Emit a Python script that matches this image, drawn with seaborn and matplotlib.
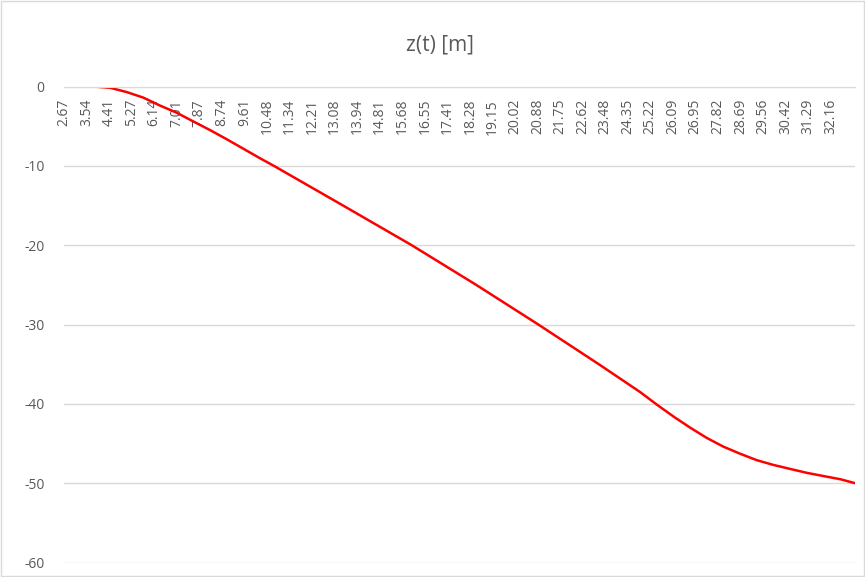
import matplotlib
matplotlib.use('Agg')
import matplotlib.pyplot as plt
import seaborn as sns

# time [s] and z(t) [m]
t = [2.67, 3.80, 4.44, 5.08, 5.72, 6.36, 7.00, 7.64, 8.29, 8.93, 9.57, 10.21,
     10.74, 13.40, 16.04, 18.52, 20.91, 23.28, 24.82, 25.47, 26.11, 26.75,
     27.39, 28.03, 28.68, 29.31, 29.95, 30.59, 31.24, 31.87, 32.52, 33.09]
z = [0.0, 0.0, -0.16, -0.7, -1.4, -2.4, -3.3, -4.4, -5.5, -6.65, -7.85, -9.05,
     -10.0, -15.0, -20.0, -25.0, -30.0, -35.1, -38.5, -40.1, -41.6, -43.0,
     -44.3, -45.4, -46.3, -47.1, -47.7, -48.2, -48.7, -49.1, -49.5, -50.0]

tick_labels = ['2.67', '3.54', '4.41', '5.27', '6.14', '7.01', '7.87', '8.74',
               '9.61', '10.48', '11.34', '12.21', '13.08', '13.94', '14.81',
               '15.68', '16.55', '17.41', '18.28', '19.15', '20.02', '20.88',
               '21.75', '22.62', '23.48', '24.35', '25.22', '26.09', '26.95',
               '27.82', '28.69', '29.56', '30.42', '31.29', '32.16']
y_ticks = [0, -10, -20, -30, -40, -50, -60]

sns.set_style('white')
plt.rcParams['font.family'] = ['Open Sans', 'DejaVu Sans']

fig = plt.figure(figsize=(8.65, 5.77), dpi=100)
ax = fig.add_axes([64 / 865, 1 - 562.5 / 577, (855 - 64) / 865, (562.5 - 86.5) / 577])

sns.lineplot(x=t, y=z, color='#ff0000', linewidth=1.8, ax=ax)

# category axis sits on the z=0 line (top of the plot area)
for s in ['left', 'right', 'top']:
    ax.spines[s].set_visible(False)
ax.spines['bottom'].set_position(('data', 0))
ax.spines['bottom'].set_color('#d9d9d9')

ax.set_xlim(2.67, 33.09)
ax.set_ylim(-60, 0)
ax.set_yticks(y_ticks)
ax.set_yticklabels([str(v) for v in y_ticks], color='#595959', fontsize=10)
ax.set_xticks([float(s) for s in tick_labels])
ax.set_xticklabels(tick_labels, rotation=90, color='#595959', fontsize=10)
ax.tick_params(axis='both', length=0)
ax.tick_params(axis='y', pad=14)
ax.tick_params(axis='x', pad=9)

ax.grid(axis='y', color='#d9d9d9', linewidth=1)
ax.grid(axis='x', visible=False)
ax.set_axisbelow(True)
ax.set_xlabel('')
ax.set_ylabel('')

fig.text(440 / 865, 1 - 45 / 577, 'z(t) [m]', ha='center', va='center',
         fontsize=15, color='#595959')

fig.patches.append(plt.Rectangle((0.001, 0.001), 0.998, 0.998, transform=fig.transFigure,
                                 fill=False, edgecolor='#d9d9d9', linewidth=1))

fig.savefig('out.png', dpi=100)
